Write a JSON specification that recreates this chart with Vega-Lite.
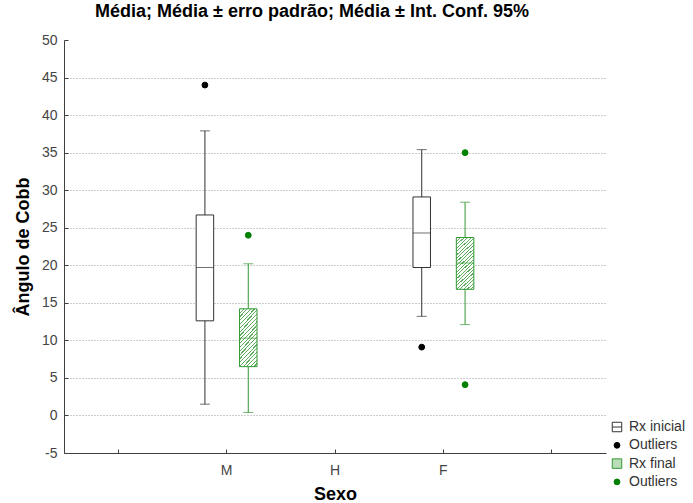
{
  "$schema": "https://vega.github.io/schema/vega-lite/v6.json",
  "autosize": "none",
  "width": 542,
  "height": 413,
  "padding": {"left": 64, "top": 40, "right": 87, "bottom": 50},
  "background": "white",
  "config": {"view": {"stroke": null}, "font": "Liberation Sans"},
  "title": {"text": "Média; Média ± erro padrão; Média ± Int. Conf. 95%", "fontSize": 18, "font": "Liberation Sans", "fontWeight": "bold", "color": "black", "anchor": "middle", "dx": -23, "offset": 12},
  "datasets": {
    "boxes": [
      {"sexo": "M", "serie": "Rx inicial", "lo": 1.5, "q1": 12.6, "med": 19.7, "q3": 26.7, "hi": 37.9},
      {"sexo": "M", "serie": "Rx final", "lo": 0.4, "q1": 6.5, "med": 10.3, "q3": 14.2, "hi": 20.2},
      {"sexo": "F", "serie": "Rx inicial", "lo": 13.2, "q1": 19.7, "med": 24.3, "q3": 29.1, "hi": 35.4},
      {"sexo": "F", "serie": "Rx final", "lo": 12.1, "q1": 16.8, "med": 20.3, "q3": 23.7, "hi": 28.4}
    ],
    "outliers": [
      {"sexo": "M", "serie": "Rx inicial", "leg": "Outliers i", "valor": 44.0},
      {"sexo": "M", "serie": "Rx final", "leg": "Outliers f", "valor": 24.0},
      {"sexo": "F", "serie": "Rx inicial", "leg": "Outliers i", "valor": 9.1},
      {"sexo": "F", "serie": "Rx final", "leg": "Outliers f", "valor": 35.0},
      {"sexo": "F", "serie": "Rx final", "leg": "Outliers f", "valor": 4.1}
    ]
  },
  "encoding": {
    "x": {"field": "sexo", "type": "nominal",
      "scale": {"type": "band", "domain": ["a", "M", "H", "F", "b"], "paddingInner": 0, "paddingOuter": 0},
      "axis": {"title": "Sexo", "labelExpr": "datum.value == 'a' || datum.value == 'b' ? '' : datum.value", "labelAngle": 0, "grid": false,
        "domainColor": "#404040", "tickColor": "#404040", "tickSize": -4, "labelPadding": 14, "labelFontSize": 14, "labelColor": "#444444", "labelFont": "Liberation Sans",
        "titleFontSize": 18, "titleFontWeight": "bold", "titleColor": "black", "titleFont": "Liberation Sans", "titlePadding": 8}},
    "xOffset": {"field": "serie", "type": "nominal", "scale": {"domain": ["Rx inicial", "Rx final"], "paddingInner": 0, "paddingOuter": 0.25}}
  },
  "layer": [
    {
      "data": {"name": "boxes"},
      "mark": {"type": "rule", "strokeWidth": 1},
      "encoding": {
        "y": {"field": "lo", "type": "quantitative",
          "scale": {"domain": [-5, 50], "nice": false, "zero": false},
          "axis": {"title": "Ângulo de Cobb", "values": [-5, 0, 5, 10, 15, 20, 25, 30, 35, 40, 45, 50], "tickCount": 30, "labelExpr": "'' + datum.value", "labelOverlap": false,
            "grid": true, "gridDash": [1, 2], "gridColor": "#9a9a9a",
            "gridOpacity": {"condition": {"test": "datum.value == 50", "value": 0}, "value": 1},
            "domainColor": "#404040", "tickColor": "#404040", "tickSize": -4, "labelPadding": 11, "labelFontSize": 14, "labelColor": "#444444", "labelFont": "Liberation Sans",
            "titleFontSize": 18, "titleFontWeight": "bold", "titleColor": "black", "titleFont": "Liberation Sans", "titlePadding": 9}},
        "y2": {"field": "hi"},
        "color": {"field": "serie", "type": "nominal", "scale": {"domain": ["Rx inicial", "Rx final"], "range": ["#333333", "#339933"]}, "legend": null}
      }
    },
    {
      "data": {"name": "boxes"},
      "transform": [{"filter": "datum.serie == 'Rx inicial'"}],
      "mark": {"type": "bar", "size": 17.5, "fill": "white", "stroke": "#333333", "strokeWidth": 1},
      "encoding": {
        "y": {"field": "q1", "type": "quantitative"},
        "y2": {"field": "q3"}
      }
    },
    {
      "data": {"name": "boxes"},
      "transform": [{"filter": "datum.serie == 'Rx final'"}],
      "mark": {"type": "bar", "size": 17.5, "stroke": "#339933", "strokeWidth": 1,
        "fill": {"gradient": "linear", "x1": 0, "y1": 0, "x2": 0.381, "y2": 1.197, "stops": [
          {"offset": 0, "color": "#5fae5f"}, {"offset": 0.016, "color": "#5fae5f"}, {"offset": 0.016, "color": "#ffffff"}, {"offset": 0.05, "color": "#ffffff"},
          {"offset": 0.05, "color": "#5fae5f"}, {"offset": 0.066, "color": "#5fae5f"}, {"offset": 0.066, "color": "#ffffff"}, {"offset": 0.1, "color": "#ffffff"},
          {"offset": 0.1, "color": "#5fae5f"}, {"offset": 0.116, "color": "#5fae5f"}, {"offset": 0.116, "color": "#ffffff"}, {"offset": 0.15, "color": "#ffffff"},
          {"offset": 0.15, "color": "#5fae5f"}, {"offset": 0.166, "color": "#5fae5f"}, {"offset": 0.166, "color": "#ffffff"}, {"offset": 0.2, "color": "#ffffff"},
          {"offset": 0.2, "color": "#5fae5f"}, {"offset": 0.216, "color": "#5fae5f"}, {"offset": 0.216, "color": "#ffffff"}, {"offset": 0.25, "color": "#ffffff"},
          {"offset": 0.25, "color": "#5fae5f"}, {"offset": 0.266, "color": "#5fae5f"}, {"offset": 0.266, "color": "#ffffff"}, {"offset": 0.3, "color": "#ffffff"},
          {"offset": 0.3, "color": "#5fae5f"}, {"offset": 0.316, "color": "#5fae5f"}, {"offset": 0.316, "color": "#ffffff"}, {"offset": 0.35, "color": "#ffffff"},
          {"offset": 0.35, "color": "#5fae5f"}, {"offset": 0.366, "color": "#5fae5f"}, {"offset": 0.366, "color": "#ffffff"}, {"offset": 0.4, "color": "#ffffff"},
          {"offset": 0.4, "color": "#5fae5f"}, {"offset": 0.416, "color": "#5fae5f"}, {"offset": 0.416, "color": "#ffffff"}, {"offset": 0.45, "color": "#ffffff"},
          {"offset": 0.45, "color": "#5fae5f"}, {"offset": 0.466, "color": "#5fae5f"}, {"offset": 0.466, "color": "#ffffff"}, {"offset": 0.5, "color": "#ffffff"},
          {"offset": 0.5, "color": "#5fae5f"}, {"offset": 0.516, "color": "#5fae5f"}, {"offset": 0.516, "color": "#ffffff"}, {"offset": 0.55, "color": "#ffffff"},
          {"offset": 0.55, "color": "#5fae5f"}, {"offset": 0.566, "color": "#5fae5f"}, {"offset": 0.566, "color": "#ffffff"}, {"offset": 0.6, "color": "#ffffff"},
          {"offset": 0.6, "color": "#5fae5f"}, {"offset": 0.616, "color": "#5fae5f"}, {"offset": 0.616, "color": "#ffffff"}, {"offset": 0.65, "color": "#ffffff"},
          {"offset": 0.65, "color": "#5fae5f"}, {"offset": 0.666, "color": "#5fae5f"}, {"offset": 0.666, "color": "#ffffff"}, {"offset": 0.7, "color": "#ffffff"},
          {"offset": 0.7, "color": "#5fae5f"}, {"offset": 0.716, "color": "#5fae5f"}, {"offset": 0.716, "color": "#ffffff"}, {"offset": 0.75, "color": "#ffffff"},
          {"offset": 0.75, "color": "#5fae5f"}, {"offset": 0.766, "color": "#5fae5f"}, {"offset": 0.766, "color": "#ffffff"}, {"offset": 0.8, "color": "#ffffff"},
          {"offset": 0.8, "color": "#5fae5f"}, {"offset": 0.816, "color": "#5fae5f"}, {"offset": 0.816, "color": "#ffffff"}, {"offset": 0.85, "color": "#ffffff"},
          {"offset": 0.85, "color": "#5fae5f"}, {"offset": 0.866, "color": "#5fae5f"}, {"offset": 0.866, "color": "#ffffff"}, {"offset": 0.9, "color": "#ffffff"},
          {"offset": 0.9, "color": "#5fae5f"}, {"offset": 0.916, "color": "#5fae5f"}, {"offset": 0.916, "color": "#ffffff"}, {"offset": 0.95, "color": "#ffffff"},
          {"offset": 0.95, "color": "#5fae5f"}, {"offset": 0.966, "color": "#5fae5f"}, {"offset": 0.966, "color": "#ffffff"}, {"offset": 1, "color": "#ffffff"}
        ]}},
      "encoding": {
        "y": {"field": "q1", "type": "quantitative"},
        "y2": {"field": "q3"}
      }
    },
    {
      "data": {"name": "boxes"},
      "mark": {"type": "tick", "size": 17.5, "thickness": 1},
      "encoding": {
        "y": {"field": "med", "type": "quantitative"},
        "color": {"field": "serie", "type": "nominal", "legend": null}
      }
    },
    {
      "data": {"name": "boxes"},
      "mark": {"type": "tick", "size": 10, "thickness": 1},
      "encoding": {
        "y": {"field": "lo", "type": "quantitative"},
        "color": {"field": "serie", "type": "nominal", "legend": null}
      }
    },
    {
      "data": {"name": "boxes"},
      "mark": {"type": "tick", "size": 10, "thickness": 1},
      "encoding": {
        "y": {"field": "hi", "type": "quantitative"},
        "color": {"field": "serie", "type": "nominal", "legend": null}
      }
    },
    {
      "data": {"name": "outliers"},
      "mark": {"type": "point", "filled": true, "strokeWidth": 1, "opacity": 1},
      "encoding": {
        "y": {"field": "valor", "type": "quantitative"},
        "shape": {"field": "leg", "type": "nominal",
          "scale": {"domain": ["Rx inicial", "Outliers i", "Rx final", "Outliers f"], "range": ["M-1,-1H1V1H-1Z M-1,0H1", "circle", "square", "circle"]},
          "legend": {"title": null, "orient": "none", "legendX": 546, "legendY": 380, "labelFontSize": 14, "labelColor": "#333333", "labelFont": "Liberation Sans",
            "rowPadding": 4.3, "labelOffset": 5, "symbolStrokeWidth": 1, "symbolOpacity": 1,
            "labelExpr": "indexof(datum.label, 'Outliers') == 0 ? 'Outliers' : datum.label"}},
        "size": {"field": "leg", "type": "nominal",
          "scale": {"type": "ordinal", "domain": ["Rx inicial", "Outliers i", "Rx final", "Outliers f"], "range": [90, 34, 90, 34]}},
        "fill": {"field": "leg", "type": "nominal",
          "scale": {"domain": ["Rx inicial", "Outliers i", "Rx final", "Outliers f"], "range": ["white", "black", "#b9dcb9", "#008000"]}},
        "stroke": {"field": "leg", "type": "nominal",
          "scale": {"domain": ["Rx inicial", "Outliers i", "Rx final", "Outliers f"], "range": ["#333333", "black", "#339933", "#008000"]}}
      }
    }
  ]
}
